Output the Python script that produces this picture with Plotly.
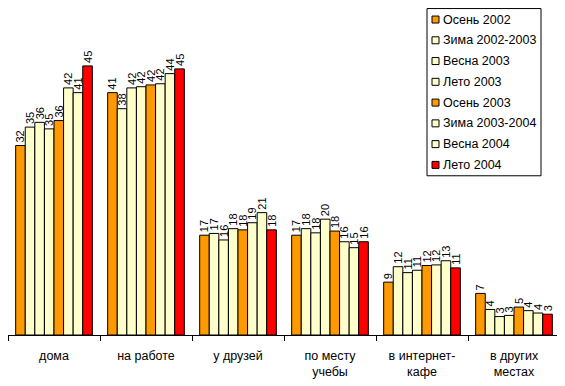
import plotly.graph_objects as go

categories = ["дома", "на работе", "у друзей", "по месту<br>учебы", "в интернет-<br>кафе", "в других<br>местах"]

series_names = ["Осень 2002", "Зима 2002-2003", "Весна 2003", "Лето 2003",
                "Осень 2003", "Зима 2003-2004", "Весна 2004", "Лето 2004"]

# values per series across the 6 categories
osen_2002 = [31.9, 40.8, 16.8, 16.8, 8.9, 7.0]
zima_2002_2003 = [35.0, 38.1, 17.1, 17.9, 11.5, 4.3]
vesna_2003 = [35.8, 41.6, 16.0, 17.2, 10.5, 3.1]
leto_2003 = [34.7, 41.8, 17.9, 19.5, 10.9, 3.3]
osen_2003 = [36.1, 42.1, 17.7, 17.5, 11.7, 4.7]
zima_2003_2004 = [41.6, 42.3, 18.9, 15.7, 11.8, 4.1]
vesna_2004 = [40.8, 44.0, 20.6, 14.7, 12.5, 3.7]
leto_2004 = [45.3, 44.8, 17.7, 15.7, 11.3, 3.5]

labels = [
    [32, 41, 17, 17, 9, 7],
    [35, 38, 17, 18, 12, 4],
    [36, 42, 16, 18, 11, 3],
    [35, 42, 18, 20, 11, 3],
    [36, 42, 18, 18, 12, 5],
    [42, 42, 19, 16, 12, 4],
    [41, 44, 21, 15, 13, 4],
    [45, 45, 18, 16, 11, 3],
]

series_values = [osen_2002, zima_2002_2003, vesna_2003, leto_2003,
                 osen_2003, zima_2003_2004, vesna_2004, leto_2004]

ORANGE = "#FF9900"
PALE = "#FFFFCC"
RED = "#FF0000"
colors = [ORANGE, PALE, PALE, PALE, ORANGE, PALE, PALE, RED]

FONT = "Liberation Sans, Arial, sans-serif"

fig = go.Figure()
for name, vals, lab, col in zip(series_names, series_values, labels, colors):
    fig.add_trace(go.Bar(
        name=name, x=categories, y=vals,
        text=[str(v) for v in lab],
        textposition="outside", textangle=-90, constraintext="none",
        textfont=dict(family=FONT, size=11, color="#000000"),
        marker=dict(color=col, line=dict(color="#000000", width=1)),
        cliponaxis=False,
        showlegend=False,
    ))

# Plot area geometry (figure pixels)
W, H = 565, 386
ML, MR, MT, MB = 0, 13, 30, 58.5
PW = W - ML - MR
PH = H - MT - MB


def px(fx):
    return (fx - ML) / PW


def py(fy):
    return (H - MB - fy) / PH


# Legend drawn as a framed box with colour keys
LX0, LX1, LY0, LY1 = 419, 533, 0.5, 168
fig.add_shape(type="rect", xref="paper", yref="paper",
              x0=px(LX0), x1=px(LX1), y0=py(LY1), y1=py(LY0),
              line=dict(color="#000000", width=1), fillcolor="white", layer="above")
STEP = 20.8
for i, (name, col) in enumerate(zip(series_names, colors)):
    cy = 11.5 + STEP * i
    fig.add_shape(type="rect", xref="paper", yref="paper",
                  x0=px(424), x1=px(431), y0=py(cy + 3.5), y1=py(cy - 3.5),
                  line=dict(color="#000000", width=1), fillcolor=col, layer="above")
    fig.add_annotation(xref="paper", yref="paper", x=px(433), y=py(cy),
                       xanchor="left", yanchor="middle", showarrow=False,
                       text=name, font=dict(family=FONT, size=12.5, color="#000000"))

fig.update_layout(
    width=W, height=H,
    margin=dict(l=ML, r=MR, t=MT, b=MB, autoexpand=False),
    paper_bgcolor="white", plot_bgcolor="white",
    barmode="group", bargap=0.167, bargroupgap=0,
    font=dict(family=FONT, size=12.5, color="#000000"),
    showlegend=False,
    xaxis=dict(
        showline=True, linecolor="#000000", linewidth=1,
        ticks="outside", tickson="boundaries", ticklen=5, tickcolor="#000000",
        showgrid=False, tickfont=dict(size=12.5), automargin=False,
        ticklabelstandoff=9,
    ),
    yaxis=dict(range=[0, 50], visible=False, showgrid=False, automargin=False),
)

fig.write_html("out.html")
